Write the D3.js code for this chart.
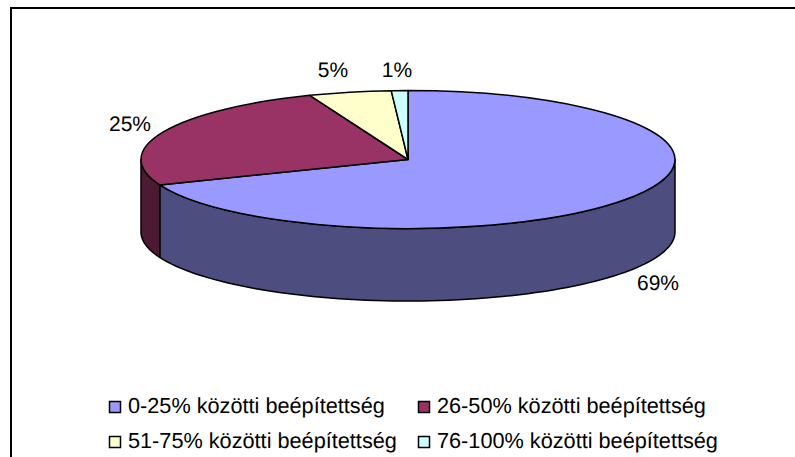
<!DOCTYPE html>
<html>
<head>
<meta charset="utf-8">
<script src="https://cdnjs.cloudflare.com/ajax/libs/d3/7.8.5/d3.min.js"></script>
<style>
  html, body { margin: 0; padding: 0; background: #fff; overflow: hidden; }
  text { font-family: "Liberation Sans", Arial, sans-serif; fill: #000; text-rendering: geometricPrecision; }
</style>
</head>
<body>
<div id="chart"></div>
<script>
var categories = ["0-25% közötti beépítettség", "26-50% közötti beépítettség",
                  "51-75% közötti beépítettség", "76-100% közötti beépítettség"];
var values = [69, 25, 5, 1];
var topColors = ["#9999ff", "#993366", "#ffffcc", "#ccffff"];
var sideColors = ["#4d4d80", "#4d1a33", "#808066", "#668080"];

var width = 795, height = 457;
var cx = 408, cy = 159.5, rx = 267, ry = 69, depth = 72.5;

var svg = d3.select("#chart").append("svg")
    .attr("width", width)
    .attr("height", height);

// frame runs off the right and bottom of the picture
svg.append("rect")
    .attr("x", 11).attr("y", 8)
    .attr("width", 820).attr("height", 480)
    .attr("fill", "#fff")
    .attr("stroke", "#000")
    .attr("stroke-width", 2);

var pie = d3.pie().sort(null).value(function(d) { return d; });
var slices = pie(values);

// angle is clockwise from 12 o'clock, same as d3.arc
function px(a) { return rx * Math.sin(a); }
function py(a) { return -ry * Math.cos(a); }

var g = svg.append("g").attr("transform", "translate(" + cx + "," + cy + ")");

//Side walls, only the part of a slice facing the viewer
function wallPath(a0, a1) {
  var steps = 80, top = [], i;
  for (i = 0; i <= steps; i++) {
    var a = a0 + (a1 - a0) * i / steps;
    top.push([px(a), py(a)]);
  }
  var bottom = top.map(function(p) { return [p[0], p[1] + depth]; }).reverse();
  return d3.line()(top.concat(bottom)) + "Z";
}

slices.forEach(function(s, i) {
  var a0 = Math.max(s.startAngle, Math.PI / 2),
      a1 = Math.min(s.endAngle, Math.PI * 1.5);
  if (a1 <= a0) return;
  g.append("path")
    .attr("d", wallPath(a0, a1))
    .attr("fill", sideColors[i])
    .attr("stroke", "#000")
    .attr("stroke-width", 1.5)
    .attr("stroke-linejoin", "round");
});

//Top face: circle arcs squashed into the ellipse
var arc = d3.arc().innerRadius(0).outerRadius(rx);
g.append("g")
    .attr("transform", "scale(1," + (ry / rx) + ")")
  .selectAll("path")
  .data(slices)
  .enter().append("path")
    .attr("d", arc)
    .attr("fill", function(d, i) { return topColors[i]; })
    .attr("stroke", "#000")
    .attr("stroke-width", 1.5)
    .attr("stroke-linejoin", "round")
    .attr("vector-effect", "non-scaling-stroke");

//Data labels
var labelPos = [[658, 290], [130, 131], [333, 77], [397, 77]];
svg.selectAll(".pct")
  .data(values)
  .enter().append("text")
    .attr("class", "pct")
    .attr("x", function(d, i) { return labelPos[i][0]; })
    .attr("y", function(d, i) { return labelPos[i][1]; })
    .attr("text-anchor", "middle")
    .style("font-size", "21px")
    .text(function(d) { return d + "%"; });

//Legend
var legendCols = [109, 418], legendRows = [407, 442];
var legend = svg.selectAll(".legendRow")
  .data(categories)
  .enter().append("g")
    .attr("class", "legendRow")
    .attr("transform", function(d, i) {
      return "translate(" + legendCols[i % 2] + "," + legendRows[Math.floor(i / 2)] + ")";
    });

legend.append("rect")
    .attr("x", 0.5).attr("y", -5.5)
    .attr("width", 11).attr("height", 11)
    .attr("fill", function(d, i) { return topColors[i]; })
    .attr("stroke", "#000")
    .attr("stroke-width", 1.5);

legend.append("text")
    .attr("x", 19)
    .attr("y", 6)
    .style("font-size", "21.7px")
    .text(function(d) { return d; });
</script>
</body>
</html>
